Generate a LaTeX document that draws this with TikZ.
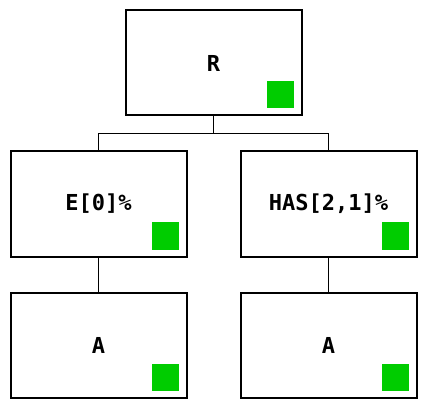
\documentclass[tikz,border=0pt]{standalone}
\usepackage{fontspec}
\setmonofont{DejaVu Sans Mono}
\begin{document}
\begin{tikzpicture}[x=0.75pt, y=-0.75pt,
    box/.style={draw, line width=1.5pt, minimum width=176*0.75pt, minimum height=105*0.75pt,
      inner sep=0pt, font=\ttfamily\bfseries\fontsize{16.5}{20}\selectfont},
    link/.style={line width=0.9pt}]
    \useasboundingbox (0,0) rectangle (427,409);
    \def\g{27}
    \node[box] (root) at (213.5, 63) {R};
    \node[box] (e0) at (98.5, 204) {E[0]\%};
    \node[box] (has) at (328.5, 204) {HAS[2,1]\%};
    \node[box] (a1) at (98.5, 345) {A};
    \node[box] (a2) at (328.5, 345) {A};
    \foreach \n in {root, e0, has, a1, a2}
        \fill[green!80!black] ([shift={(-9,-8)}]\n.south east) rectangle ++(-\g,-\g);
    \draw[link] (root.south) -- ++(0,17) coordinate (bus);
    \draw[link] (e0.north) |- (bus) -| (has.north);
    \draw[link] (e0) -- (a1);
    \draw[link] (has) -- (a2);
\end{tikzpicture}
\end{document}
